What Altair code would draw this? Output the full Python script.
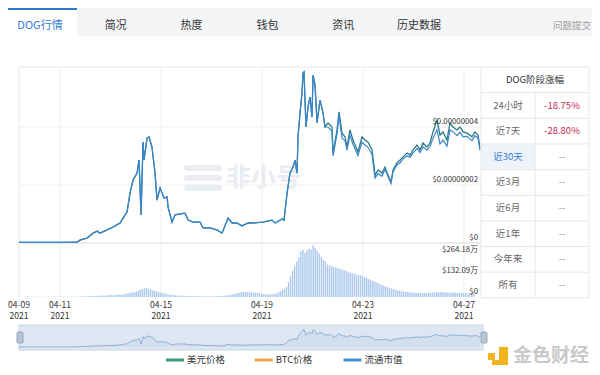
import altair as alt
import pandas as pd

FONT = "Noto Sans CJK SC"

# ---------------- data ----------------
# hours since 2021-04-09 00:00
hours = [9, 29, 48, 64.2, 67, 73.7, 79.4, 83.2, 86, 92.7,
         98.4, 105, 107.9, 111.7, 114.5, 117.4, 121.2, 123.1, 125, 126.9,
         127.8, 130.7, 132.6, 135.4, 138.3, 140.2, 143.1, 145, 146.9, 149.7,
         150.7, 154.5, 157.3, 162.1, 166.8, 169.7, 174.4, 181.1, 183.9, 190.6,
         197.2, 202, 207.7, 211.5, 216.2, 221, 226.7, 231.4, 241, 249.5,
         252.4, 259, 260.9, 263.8, 266.6, 269.5, 271.4, 273.3, 274.2, 276.1,
         278, 279, 279.9, 281.8, 283.7, 285.6, 287.5, 288.5, 290.4, 292.3,
         295.1, 298, 299.9, 302.7, 306.5, 307.5, 311.3, 313.2, 316, 318.9,
         320.8, 323.6, 326.5, 331.2, 335.1, 337.9, 340.8, 344.6, 347.4, 350.3,
         354.1, 356.9, 359.8, 362.6, 364.5, 368.3, 371.2, 374, 377.8, 380.7,
         383.5, 387.3, 390.2, 393, 396.8, 399.7, 402.5, 406.3, 409.2, 412,
         415.8, 418.7, 421.5, 425.3, 428.2, 431.1, 434.9, 439.6, 442.5, 445.3,
         447.2]
# USD price, unit 1e-9 USD
price = [0.2, 0.2, 0.2, 0.3, 1.0, 1.7, 3.4, 4.1, 3.4, 4.5,
         5.5, 6.9, 8.6, 10.7, 17.2, 21.7, 24.1, 28.6, 9.7, 34.8,
         28.6, 36.2, 36.6, 33.1, 24.1, 14.8, 19.0, 17.2, 15.5, 15.9,
         12.4, 7.2, 9.7, 10.0, 10.3, 7.9, 7.2, 7.2, 5.2, 5.2,
         4.5, 3.4, 8.6, 6.9, 6.9, 5.9, 6.9, 6.9, 7.2, 7.9,
         6.9, 8.3, 7.9, 17.2, 24.1, 26.2, 28.6, 24.1, 36.6, 44.8,
         51.7, 58.6, 59.0, 40.0, 46.9, 50.3, 43.4, 57.9, 54.5, 41.4,
         49.3, 44.8, 40.0, 41.4, 40.0, 31.0, 39.0, 45.2, 37.9, 36.6,
         33.1, 39.0, 35.5, 31.4, 36.6, 35.5, 34.8, 32.1, 23.4, 25.2,
         24.1, 26.2, 23.4, 21.0, 25.2, 27.6, 28.6, 29.7, 31.0, 30.3,
         32.1, 33.8, 32.1, 34.5, 33.1, 34.5, 38.3, 42.4, 37.2, 38.3,
         35.5, 41.4, 40.0, 39.0, 40.0, 38.3, 37.9, 36.6, 38.3, 37.2,
         32.8]
# circulating market cap, drawn on the same axis as the price
mcap = [0.2, 0.2, 0.2, 0.3, 1.0, 1.7, 3.4, 4.1, 3.4, 4.5,
        5.5, 6.9, 8.6, 10.7, 17.2, 21.7, 24.1, 28.6, 9.7, 34.8,
        28.6, 36.2, 36.6, 33.1, 24.1, 14.8, 19.0, 17.2, 15.5, 15.9,
        12.4, 7.2, 9.7, 10.0, 10.3, 7.9, 7.2, 7.2, 5.2, 5.2,
        4.5, 3.4, 8.6, 6.9, 6.9, 5.9, 6.9, 6.9, 7.2, 7.9,
        6.9, 8.3, 7.9, 17.2, 24.1, 26.2, 28.6, 24.1, 36.6, 44.8,
        51.7, 58.6, 59.0, 40.0, 46.9, 50.3, 43.4, 57.9, 54.5, 41.4,
        49.3, 44.8, 40.0, 40.0, 38.6, 30.0, 37.6, 44.0, 36.2, 35.2,
        32.0, 37.4, 34.0, 30.2, 34.8, 33.8, 33.0, 30.5, 22.4, 24.0,
        23.0, 25.4, 22.8, 20.5, 24.5, 27.0, 27.6, 29.0, 30.0, 29.6,
        31.0, 32.6, 31.2, 33.2, 32.0, 33.3, 36.0, 39.0, 34.2, 35.5,
        33.4, 39.0, 38.4, 37.0, 38.2, 36.6, 36.8, 35.3, 37.0, 36.2,
        32.0]
# volume (万 USD), one bar every 2 hours starting at hour 10
vol_start_hour = 10
vol_step_hours = 2
volume = [1, 1, 1, 1, 1, 1, 1,
          1, 1, 1, 1, 2, 1, 1, 1, 2, 1, 1, 1,
          2, 2, 2, 2, 3, 2, 2, 3, 3, 4, 4, 5,
          6, 5, 7, 8, 7, 9, 8, 10, 9, 11, 12, 13,
          12, 14, 13, 16, 15, 18, 20, 22, 25, 28, 30, 33,
          38, 45, 50, 55, 57, 52, 48, 42, 38, 35, 30, 28,
          25, 22, 18, 16, 14, 12, 11, 10, 9, 9, 8, 8,
          7, 7, 6, 6, 6, 5, 5, 5, 5, 5, 5, 5,
          5, 5, 6, 6, 7, 8, 9, 10, 12, 14, 17, 20,
          24, 27, 30, 31, 32, 30, 31, 29, 28, 27, 25, 24,
          20, 18, 17, 16, 16, 17, 18, 22, 28, 36, 44, 52,
          63, 95, 130, 170, 195, 225, 252, 290, 300, 280, 296, 308,
          300, 330, 310, 290, 275, 255, 235, 225, 205, 200, 195, 190,
          185, 182, 178, 175, 170, 165, 160, 155, 152, 148, 144, 140,
          138, 132, 126, 120, 114, 108, 102, 97, 92, 86, 80, 74,
          68, 63, 58, 54, 50, 46, 43, 40, 37, 34, 32, 31,
          30, 28, 27, 26, 25, 25, 24, 24, 25, 26, 27, 28,
          29, 30, 30, 31, 30, 29, 28, 27, 27, 28, 28, 27,
          26, 25, 24, 24, 23, 22, 22, 21]

date_tick_hours = [9, 48, 144, 240, 336, 432]
date_tick_days = ["04-09", "04-11", "04-15", "04-19", "04-23", "04-27"]
date_tick_year = ["2021", "2021", "2021", "2021", "2021", "2021"]
price_ticks = [0, 20, 40]
price_tick_text = ["$0", "$0.00000002", "$0.00000004"]
vol_ticks = [0, 132.09, 264.18]
vol_tick_text = ["$0", "$132.09万", "$264.18万"]
tabs = ["DOG行情", "简况", "热度", "钱包", "资讯", "历史数据"]
feedback = "问题提交"
table_title = "DOG阶段涨幅"
periods = ["24小时", "近7天", "近30天", "近3月", "近6月", "近1年", "今年来", "所有"]
changes = ["-18.75%", "-28.80%", "--", "--", "--", "--", "--", "--"]
legend_names = ["美元价格", "BTC价格", "流通市值"]
legend_colors = ["#3c9a77", "#e9a94f", "#4d8fd4"]
watermark = "非小号"
logo_text = "金色财经"

# ---------------- tables ----------------
price_df = pd.DataFrame({"h": hours, "price": price, "mcap": mcap})
vol_df = pd.DataFrame({
    "h": [vol_start_hour + vol_step_hours * i for i in range(len(volume))],
    "vol": volume,
})
date_df = pd.DataFrame({"h": date_tick_hours, "day": date_tick_days, "year": date_tick_year})
ptick_df = pd.DataFrame({"v": price_ticks, "t": price_tick_text})
vtick_df = pd.DataFrame({"v": vol_ticks, "t": vol_tick_text})
tab_df = pd.DataFrame({"tab": tabs, "active": [i == 0 for i in range(len(tabs))]})
table_df = pd.DataFrame({"i": list(range(len(periods))), "p": periods, "c": changes,
                         "hl": [p == "近30天" for p in periods]})
legend_df = pd.DataFrame({"name": legend_names, "col": legend_colors})
one = pd.DataFrame({"k": [0]})

# ---------------- scales ----------------
XS = alt.Scale(domain=[9, 447.2], range=[11, 472], nice=False, zero=False)
PS = alt.Scale(domain=[0, 60.7], range=[235, 59], nice=False, zero=False)
VS = alt.Scale(domain=[0, 330], range=[289, 237], nice=False, zero=False)
NS = alt.Scale(domain=[0, 60.7], range=[339, 321], nice=False, zero=False)
TS = alt.Scale(domain=[0, 7], range=[97.5, 277], nice=False, zero=False)
TABS = alt.Scale(type="point", domain=tabs, range=[32, 411], padding=0)
LEGS = alt.Scale(type="point", domain=legend_names, range=[167, 344.5], padding=0)

X = lambda f: alt.X(f, scale=XS, axis=None)


def rect(color, x, x2, y, y2, **kw):
    return alt.Chart(one).mark_rect(color=color, **kw).encode(
        x=alt.value(x), x2=alt.value(x2), y=alt.value(y), y2=alt.value(y2))


layers = []

# header
layers.append(rect("#f4f5f7", 69, 584, 0, 28))
layers.append(rect("#2f7bd1", 0, 69, 0, 2))
layers.append(alt.Chart(tab_df).mark_text(fontSize=11, font=FONT).encode(
    x=alt.X("tab:N", scale=TABS, axis=None), y=alt.value(18), text="tab:N",
    color=alt.condition("datum.active", alt.value("#2f7bd1"), alt.value("#333333"))))
layers.append(alt.Chart(one).mark_text(fontSize=9.5, font=FONT, color="#999999",
                                       align="right", text=feedback)
              .encode(x=alt.value(583), y=alt.value(18)))

# frame and grid
layers.append(alt.Chart(one).mark_rule(color="#e6e6e6").encode(
    x=alt.value(11), x2=alt.value(473), y=alt.value(59)))
layers.append(alt.Chart(one).mark_rule(color="#e6e6e6").encode(
    x=alt.value(11), y=alt.value(59), y2=alt.value(289)))
layers.append(alt.Chart(date_df[date_df.h > 20]).mark_rule(color="#efefef").encode(
    x=X("h:Q"), y=alt.value(59), y2=alt.value(289)))
layers.append(alt.Chart(ptick_df[ptick_df.v > 0]).mark_rule(color="#eeeeee").encode(
    y=alt.Y("v:Q", scale=PS, axis=None), x=alt.value(11), x2=alt.value(473)))
layers.append(alt.Chart(ptick_df[ptick_df.v == 0]).mark_rule(color="#d9d9d9").encode(
    y=alt.Y("v:Q", scale=PS, axis=None), x=alt.value(11), x2=alt.value(473)))

# watermark
for yy in (160, 170, 180):
    layers.append(alt.Chart(one).mark_rule(color="#e9ecf1", strokeWidth=6, strokeCap="round")
                  .encode(x=alt.value(179), x2=alt.value(211), y=alt.value(yy)))
layers.append(alt.Chart(one).mark_text(fontSize=25, font=FONT, fontWeight="bold",
                                       color="#e9ecf1", align="left", text=watermark)
              .encode(x=alt.value(218), y=alt.value(170)))

# volume
layers.append(alt.Chart(vol_df).mark_bar(width=1.4, color="#abc8ee").encode(
    x=X("h:Q"), y=alt.Y("vol:Q", scale=VS, axis=None)))

# price lines
layers.append(alt.Chart(price_df).mark_line(color="#2c7a86", strokeWidth=1.3).encode(
    x=X("h:Q"), y=alt.Y("price:Q", scale=PS, axis=None)))
layers.append(alt.Chart(price_df).mark_line(color="#3a86cc", strokeWidth=1.2).encode(
    x=X("h:Q"), y=alt.Y("mcap:Q", scale=PS, axis=None)))

# axis labels
layers.append(alt.Chart(ptick_df).mark_text(fontSize=7.8, font=FONT, color="#333333",
                                            align="right", baseline="bottom", dy=-1).encode(
    y=alt.Y("v:Q", scale=PS, axis=None), x=alt.value(470), text="t:N"))
layers.append(alt.Chart(vtick_df).mark_text(fontSize=7.8, font=FONT, color="#333333",
                                            align="right", baseline="bottom", dy=-1).encode(
    y=alt.Y("v:Q", scale=VS, axis=None), x=alt.value(470), text="t:N"))
layers.append(alt.Chart(date_df).mark_text(fontSize=8.5, font=FONT, color="#333333").encode(
    x=X("h:Q"), y=alt.value(297), text="day:N"))
layers.append(alt.Chart(date_df).mark_text(fontSize=8.5, font=FONT, color="#333333").encode(
    x=X("h:Q"), y=alt.value(308), text="year:N"))

# navigator
layers.append(rect("#dde6f1", 11, 475, 317, 342, stroke="#cad6e5"))
layers.append(alt.Chart(price_df).mark_area(
    color="#cfdcec", opacity=0.7,
    line=alt.OverlayMarkDef(color="#8fb1da", strokeWidth=1)).encode(
    x=X("h:Q"), y=alt.Y("price:Q", scale=NS, axis=None)))
for hx in (9, 473):
    layers.append(rect("#b9c5d4", hx, hx + 6, 324, 335, stroke="#97a6b9", cornerRadius=1))

# legend
layers.append(alt.Chart(legend_df).mark_point(
    shape="M-1,-0.17L1,-0.17L1,0.17L-1,0.17Z", filled=True, size=324, opacity=1).encode(
    x=alt.X("name:N", scale=LEGS, axis=None),
    y=alt.value(352),
    color=alt.Color("col:N", scale=None, legend=None)))
layers.append(alt.Chart(legend_df).mark_text(fontSize=9.5, font=FONT, color="#333333",
                                             align="left", dx=12).encode(
    x=alt.X("name:N", scale=LEGS, axis=None), y=alt.value(352), text="name:N"))

# table
layers.append(alt.Chart(table_df[table_df.hl]).mark_rect(color="#eef3f9").encode(
    y=alt.Y("lo:Q", scale=TS, axis=None), y2="hi:Q", x=alt.value(473), x2=alt.value(527))
    .transform_calculate(lo="datum.i - 0.5", hi="datum.i + 0.5"))
border_df = pd.DataFrame({"b": [-1.5 + k for k in range(len(periods) + 2)]})
layers.append(alt.Chart(border_df).mark_rule(color="#e6e6e6").encode(
    y=alt.Y("b:Q", scale=TS, axis=None), x=alt.value(473), x2=alt.value(581)))
for xx, top in ((473, -1.5), (527, -0.5), (581, -1.5)):
    layers.append(alt.Chart(pd.DataFrame({"a": [top], "z": [len(periods) - 0.5]}))
                  .mark_rule(color="#e6e6e6").encode(
        y=alt.Y("a:Q", scale=TS, axis=None), y2="z:Q", x=alt.value(xx)))
layers.append(alt.Chart(pd.DataFrame({"i": [-1], "t": [table_title]})).mark_text(
    fontSize=9.5, font=FONT, color="#333333").encode(
    y=alt.Y("i:Q", scale=TS, axis=None), x=alt.value(527), text="t:N"))
layers.append(alt.Chart(table_df).mark_text(fontSize=9.5, font=FONT).encode(
    y=alt.Y("i:Q", scale=TS, axis=None), x=alt.value(500), text="p:N",
    color=alt.condition("datum.hl", alt.value("#2f7bd1"), alt.value("#666666"))))
layers.append(alt.Chart(table_df).mark_text(fontSize=9.5, font=FONT).encode(
    y=alt.Y("i:Q", scale=TS, axis=None), x=alt.value(554), text="c:N",
    color=alt.condition("datum.c == '--'", alt.value("#999999"), alt.value("#c7284f"))))

# logo
layers.append(rect("#f2b321", 480, 487, 345, 352))
layers.append(rect("#f2b321", 491, 500, 339, 357))
layers.append(rect("#f2b321", 484, 500, 352, 357))
layers.append(alt.Chart(one).mark_text(fontSize=19, font=FONT, fontWeight="bold",
                                       color="#c9c9c9", align="left", text=logo_text)
              .encode(x=alt.value(505), y=alt.value(348)))

chart = alt.layer(*layers).resolve_scale(
    x="independent", y="independent", color="independent"
).properties(
    width=584, height=359, padding=0,
    autosize=alt.AutoSizeParams(type="none"), background="white"
).configure_view(stroke=None)

chart.save("out.html", embed_options={"renderer": "svg", "actions": False})
